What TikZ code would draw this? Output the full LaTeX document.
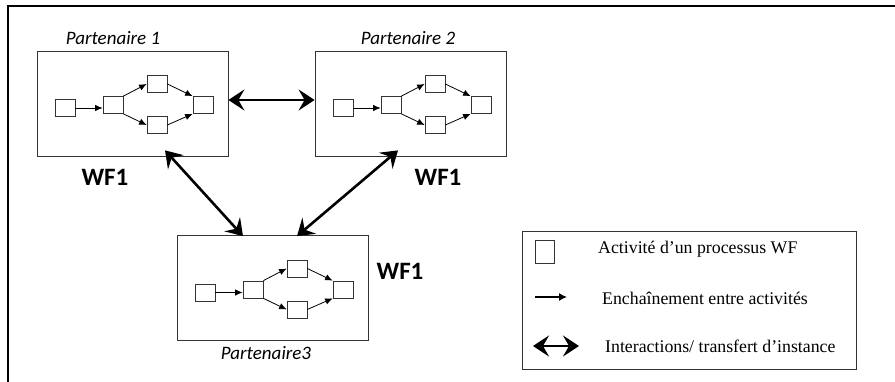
\documentclass[tikz,border=0pt]{standalone}
\usepackage{fontspec}
\setmainfont{Liberation Serif}
\newfontfamily\calibri{Carlito}
\usetikzlibrary{arrows.meta, positioning}

\tikzset{
    partner/.style={draw=black!80, line width=0.8pt, minimum width=191pt, minimum height=105pt, inner sep=0pt},
    act/.style={draw=black!80, line width=0.7pt, minimum width=20pt, minimum height=17pt, inner sep=0pt},
    flow/.style={-{Latex[length=7.5pt,width=6.5pt]}, line width=0.8pt},
    interact/.style={{Stealth[length=16pt,width=21pt,inset=6pt]}-{Stealth[length=16pt,width=21pt,inset=6pt]}, line width=2.6pt},
    wflabel/.style={font=\calibri\bfseries\fontsize{25}{30}\selectfont, inner sep=0pt},
    partlabel/.style={font=\calibri\itshape\fontsize{19}{23}\selectfont, inner sep=0pt},
    legtext/.style={anchor=west, inner sep=0pt, font=\fontsize{17.8}{21}\selectfont}
}

\begin{document}
\begin{tikzpicture}[x=1pt, y=-1pt]
    \useasboundingbox (0,0) rectangle (895,382);
    \draw[line width=1.5pt] (8,382) -- (8,6) -- (895,6);

    % partner boxes
    \node[partner] (p1) at (132.5,103.5) {};
    \node[partner] (p2) at (410.5,103.5) {};
    \node[partner] (p3) at (272.5,288) {};

    % workflow inside each box
    \foreach \p in {p1,p2,p3}{
        \node[act] (\p-a) at ([shift={(-67.5,4.5)}]\p.center) {};
        \node[act] (\p-b) at ([shift={(-19.5,1.5)}]\p.center) {};
        \node[act] (\p-c) at ([shift={(24.5,-19.5)}]\p.center) {};
        \node[act] (\p-d) at ([shift={(24.5,21.5)}]\p.center) {};
        \node[act] (\p-e) at ([shift={(70.5,1.5)}]\p.center) {};
        \draw[flow] (\p-a.east) -- (\p-a.east -| \p-b.west);
        \draw[flow] (\p-b.north east) -- (\p-c.west);
        \draw[flow] (\p-b.south east) -- (\p-d.west);
        \draw[flow] (\p-c.east) -- (\p-e.north west);
        \draw[flow] (\p-d.east) -- (\p-e.south west);
    }

    % interactions
    \draw[interact] ([yshift=3.5pt]p1.east) -- ([yshift=3.5pt]p2.west);
    \draw[interact] ([shift={(32.5,-6)}]p1.south) -- ([shift={(-29.5,1)}]p3.north);
    \draw[interact] ([shift={(-12.5,-6)}]p2.south) -- ([shift={(24.5,1)}]p3.north);

    % labels
    \node[partlabel] (lab1) at (113,38) {Partenaire 1};
    \node[partlabel] (lab2) at (408,38) {Partenaire 2};
    \node[partlabel] (lab3) at (266,353) {Partenaire3};
    \node[wflabel] (wf1) at (105,177) {WF1};
    \node[wflabel] (wf2) at (438,177) {WF1};
    \node[wflabel] (wf3) at (400,271) {WF1};

    % legend
    \node[draw=black!80, line width=0.8pt, minimum width=334pt, minimum height=138pt] (legend) at (689,300) {};
    \node[act, minimum width=19pt, minimum height=23pt] (legact) at (544.5,251.5) {};
    \coordinate (lf1) at (535,297);
    \coordinate (lf2) at (567,297);
    \draw[-{Latex[length=8pt,width=8pt]}, line width=1.2pt] (lf1) -- (lf2);
    \coordinate (li1) at (533,346);
    \coordinate (li2) at (579,346);
    \draw[interact, line width=2.2pt] (li1) -- (li2);
    \node[legtext] (legt1) at (598,249) {Activité d’un processus WF};
    \node[legtext] (legt2) at (602,298) {Enchaînement entre activités};
    \node[legtext] (legt3) at (605,346) {Interactions/ transfert d’instance};
\end{tikzpicture}
\end{document}
